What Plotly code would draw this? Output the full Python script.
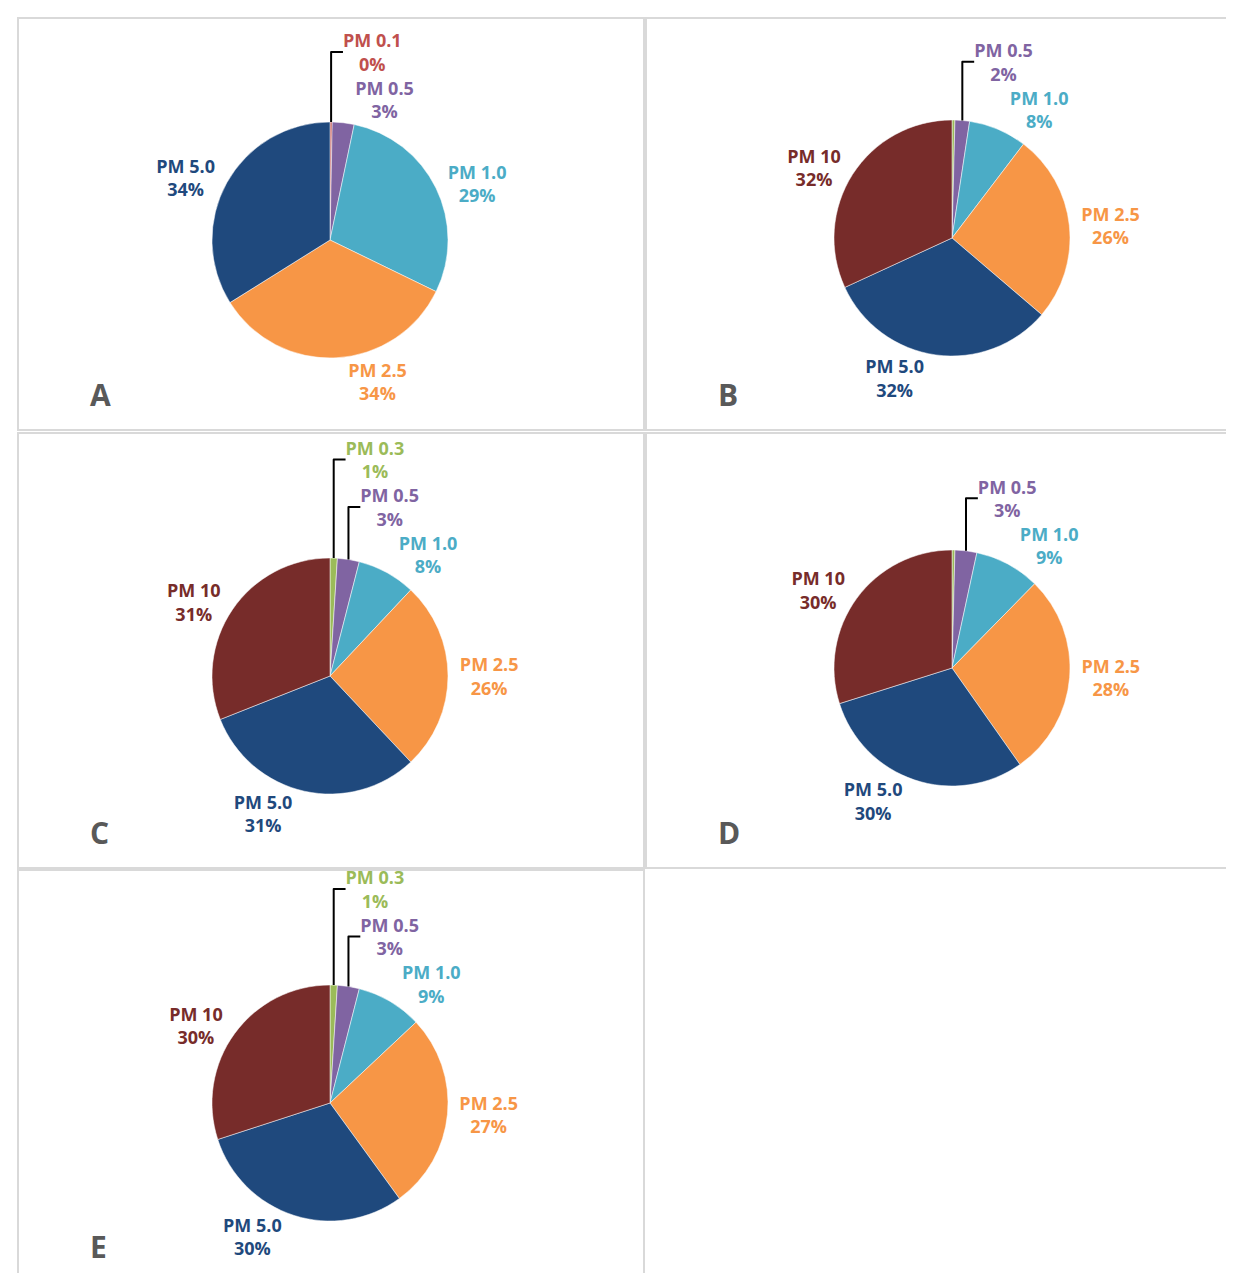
import plotly.graph_objects as go

W, H = 1234, 1273
colors = {"PM 0.1": "#c0504d", "PM 0.3": "#9bbb59", "PM 0.5": "#8064a2", "PM 1.0": "#4bacc6",
          "PM 2.5": "#f79646", "PM 5.0": "#1f497d", "PM 10": "#772c2a"}

labels_A = ["PM 0.1", "PM 0.5", "PM 1.0", "PM 2.5", "PM 5.0"]
values_A = [0.3, 3, 29, 34, 34]
text_A = ["0%", "3%", "29%", "34%", "34%"]

labels_6 = ["PM 0.3", "PM 0.5", "PM 1.0", "PM 2.5", "PM 5.0", "PM 10"]
values_B = [0.4, 2, 8, 26, 32, 32]
text_B = ["0%", "2%", "8%", "26%", "32%", "32%"]
values_C = [1, 3, 8, 26, 31, 31]
text_C = ["1%", "3%", "8%", "26%", "31%", "31%"]
values_D = [0.4, 3, 9, 28, 30, 30]
text_D = ["0%", "3%", "9%", "28%", "30%", "30%"]
values_E = [1, 3, 9, 27, 30, 30]
text_E = ["1%", "3%", "9%", "27%", "30%", "30%"]

# panel boxes in pixels: (x0, y0, x1, y1), pie centre (cx, cy)
panels = {"A": (10, 10, 636, 422, 322, 232), "B": (638, 10, 1234, 422, 944, 230),
          "C": (10, 425, 636, 860, 322, 668), "D": (638, 425, 1234, 860, 944, 660),
          "E": (10, 862, 636, 1273, 322, 1095)}
pies = [("A", labels_A, values_A, text_A), ("B", labels_6, values_B, text_B),
        ("C", labels_6, values_C, text_C), ("D", labels_6, values_D, text_D),
        ("E", labels_6, values_E, text_E)]
R = 118

fig = go.Figure()
shapes, annos = [], []
for key, labs, vals, txt in pies:
    x0, y0, x1, y1, cx, cy = panels[key]
    show = [t if not (t == "0%" and key != "A") else "" for t in txt]
    cols = [colors[l] for l in labs]
    fig.add_trace(go.Pie(
        labels=labs, values=vals, text=show, sort=False, direction="clockwise", rotation=0,
        marker=dict(colors=cols, line=dict(color="white", width=0.5)),
        texttemplate=["<b>%{label}<br>%{text}</b>" if s else "" for s in show],
        textposition="outside", textfont=dict(family="Open Sans", size=18, color=cols),
        outsidetextfont=dict(color=cols),
        domain=dict(x=[(cx - R) / W, (cx + R) / W], y=[1 - (cy + R) / H, 1 - (cy - R) / H]),
        showlegend=False, hoverinfo="label+percent"))
    shapes.append(dict(type="rect", xref="paper", yref="paper", x0=x0 / W, x1=x1 / W,
                       y0=1 - y1 / H, y1=1 - y0 / H, line=dict(color="#d9d9d9", width=2)))
    annos.append(dict(text="<b>" + key + "</b>", x=(x0 + 70) / W, y=1 - (y1 - 35) / H,
                      xref="paper", yref="paper", showarrow=False,
                      font=dict(family="Open Sans", size=30, color="#595959"),
                      xanchor="left", yanchor="middle"))

fig.update_layout(width=W, height=H, margin=dict(l=0, r=0, t=0, b=0, autoexpand=False),
                  paper_bgcolor="white", shapes=shapes, annotations=annos)
fig.write_html("out.html")
